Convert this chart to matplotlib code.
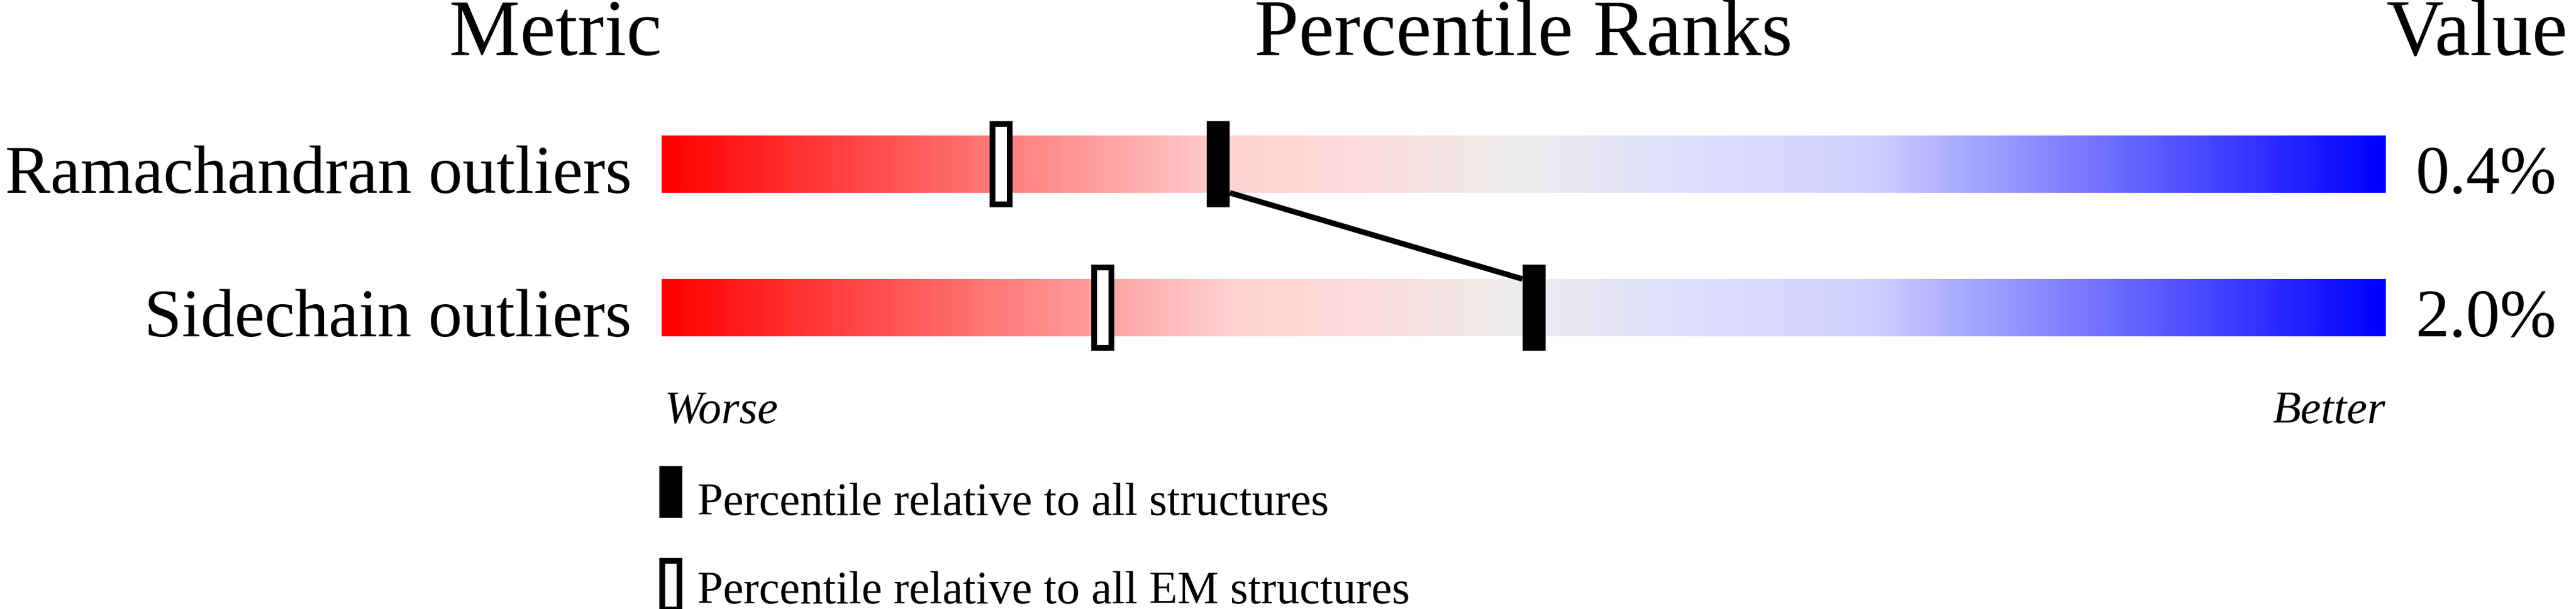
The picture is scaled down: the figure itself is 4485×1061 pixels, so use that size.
import numpy as np
import matplotlib
matplotlib.use("Agg")
import matplotlib.pyplot as plt
from matplotlib.colors import LinearSegmentedColormap
from matplotlib.patches import Rectangle

metrics = ['Ramachandran outliers', 'Sidechain outliers']
values = ['0.4%', '2.0%']
pct_all = [32.3, 50.6]   # percentile relative to all structures
pct_em = [19.7, 25.6]    # percentile relative to all EM structures
legend_labels = ['Percentile relative to all structures',
                 'Percentile relative to all EM structures']

plt.rcParams['font.family'] = ['Liberation Serif', 'DejaVu Serif']

# red -> pale -> grey -> lavender -> blue
cmap = LinearSegmentedColormap.from_list('slider', [
    (0.00, (1.00, 0.00, 0.00)),
    (0.33, (1.00, 0.82, 0.82)),
    (0.40, (1.00, 0.86, 0.86)),
    (0.50, (0.93, 0.93, 0.93)),
    (0.60, (0.87, 0.87, 1.00)),
    (0.70, (0.82, 0.82, 1.00)),
    (1.00, (0.00, 0.00, 1.00)),
])

fig = plt.figure(figsize=(44.85, 10.61), dpi=100)
ax = fig.add_axes([0.25686, 0.37700, 0.66912, 0.47125])
ax.set_axis_off()

bar_h = 0.4
mark_w = 1.333   # 40 px
mark_h = 0.6
grad = np.linspace(0, 1, 512).reshape(1, -1)

for i, name in enumerate(metrics):
    ax.imshow(grad, cmap=cmap, aspect='auto', interpolation='bilinear',
              extent=[0, 100, i + bar_h / 2, i - bar_h / 2])
    # open marker (EM structures)
    ax.add_patch(Rectangle((pct_em[i] - 0.5, i - 0.28), 1.0, 0.56,
                           facecolor='white', edgecolor='black', lw=7.2, zorder=3))
    # filled marker (all structures)
    ax.add_patch(Rectangle((pct_all[i] - mark_w / 2, i - mark_h / 2), mark_w, mark_h,
                           facecolor='black', edgecolor='none', zorder=3))
    ax.text(-1.73, i + bar_h / 2, name, ha='right', va='baseline', fontsize=85)
    ax.text(101.75, i + bar_h / 2, values[i], ha='left', va='baseline', fontsize=85)

# line joining the two "all structures" markers
ax.plot([pct_all[0] + mark_w / 2, pct_all[1] - mark_w / 2],
        [0 + bar_h / 2, 1 - bar_h / 2], color='black', lw=7,
        solid_capstyle='butt', zorder=2)

# headers
ax.text(0.0, -0.76, 'Metric', ha='right', va='baseline', fontsize=100)
ax.text(50, -0.76, 'Percentile Ranks', ha='center', va='baseline', fontsize=100)
ax.text(100.05, -0.76, 'Value', ha='left', va='baseline', fontsize=100)

ax.text(0.15, 1.804, 'Worse', ha='left', va='baseline', fontsize=58, style='italic')
ax.text(100, 1.804, 'Better', ha='right', va='baseline', fontsize=58, style='italic')

# legend
ax.add_patch(Rectangle((0.533 - mark_w / 2, 2.104), mark_w, 0.36,
                       facecolor='black', edgecolor='none', clip_on=False))
ax.text(2.07, 2.444, legend_labels[0], ha='left', va='baseline', fontsize=58)
ax.add_patch(Rectangle((0.533 - 0.5, 2.764), 1.0, 0.34,
                       facecolor='white', edgecolor='black', lw=7.2, clip_on=False))
ax.text(2.07, 3.06, legend_labels[1], ha='left', va='baseline', fontsize=58)

ax.set_xlim(0, 100)
ax.set_ylim(1.5, -0.5)

fig.savefig('out.png', dpi=100, facecolor='white')
